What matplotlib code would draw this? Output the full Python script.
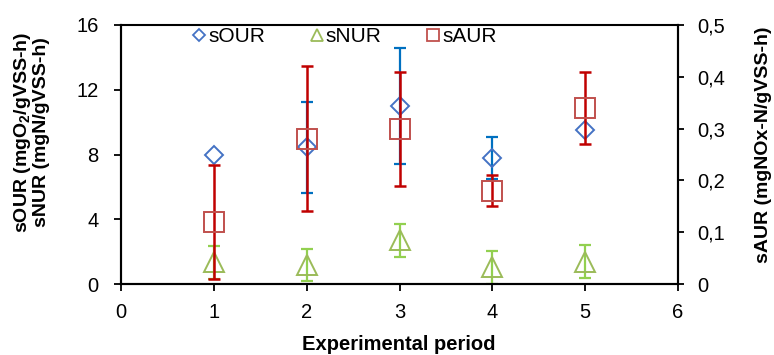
import matplotlib
matplotlib.use("Agg")
import matplotlib.pyplot as plt
import numpy as np
from matplotlib.ticker import FuncFormatter
from matplotlib.lines import Line2D

plt.rcParams['font.family'] = ['Liberation Sans', 'DejaVu Sans']
plt.rcParams['mathtext.fontset'] = 'custom'
plt.rcParams['mathtext.rm'] = 'Liberation Sans:bold'
plt.rcParams['mathtext.bf'] = 'Liberation Sans:bold'

periods = [1, 2, 3, 4, 5]
sour = [8.0, 8.45, 11.0, 7.8, 9.5]
sour_err = [np.nan, 2.8, 3.6, 1.3, np.nan]
snur = [1.33, 1.19, 2.7, 1.03, 1.38]
snur_err = [1.0, 1.0, 1.02, 1.03, 1.0]
saur = [0.12, 0.28, 0.30, 0.18, 0.34]
saur_err = [0.11, 0.14, 0.11, 0.03, 0.07]

W, H = 774, 355
fig = plt.figure(figsize=(W/100, H/100), dpi=100)
L, R, T, B = 121, 678, 25, 284
ax = fig.add_axes([L/W, 1 - B/H, (R-L)/W, (B-T)/H])
ax2 = ax.twinx()

c_our, c_our_e = '#4472C4', '#0070C0'
c_nur, c_nur_e = '#9BBB59', '#92D050'
c_aur, c_aur_e = '#C0504D', '#C00000'

ax.errorbar(periods, sour, yerr=sour_err, fmt='none', ecolor=c_our_e,
            elinewidth=1.6, capsize=4.3, capthick=1.6, zorder=2)
ax.plot(periods, sour, linestyle='none', marker='D', ms=9.5, mfc='none',
        mec=c_our, mew=1.4, zorder=3)
ax.errorbar(periods, snur, yerr=snur_err, fmt='none', ecolor=c_nur_e,
            elinewidth=1.6, capsize=4.3, capthick=1.6, zorder=2)
ax.plot(periods, snur, linestyle='none', marker='^', ms=15, mfc='none',
        mec=c_nur, mew=1.4, zorder=3)

ax2.errorbar(periods, saur, yerr=saur_err, fmt='none', ecolor=c_aur_e,
             elinewidth=1.8, capsize=4.3, capthick=1.8, zorder=2)
ax2.plot(periods, saur, linestyle='none', marker='s', ms=14.5, mfc='none',
         mec=c_aur, mew=1.4, zorder=3)

ax.set_xlim(0, 6)
ax.set_ylim(0, 16)
ax2.set_ylim(0, 0.5)
ax.set_xticks([0, 1, 2, 3, 4, 5, 6])
ax.set_yticks([0, 4, 8, 12, 16])
ax2.set_yticks([0, 0.1, 0.2, 0.3, 0.4, 0.5])
ax2.yaxis.set_major_formatter(FuncFormatter(lambda v, p: ('%g' % round(v, 2)).replace('.', ',')))

for a in (ax, ax2):
    for s in a.spines.values():
        s.set_linewidth(1.5)
        s.set_color('black')
    a.spines['top'].set_visible(False)
ax.tick_params(axis='x', direction='out', length=5, width=1.3, labelsize=14.5, pad=9)
ax.tick_params(axis='y', direction='out', length=5, width=1.3, labelsize=14.5, pad=11)
ax2.tick_params(axis='y', direction='out', length=4, width=1.3, labelsize=14.5, pad=10)
ax.plot([0, 1], [1, 1], transform=ax.transAxes, color='black', lw=1.5, clip_on=False)

fig.text(399/W, 1 - 345/H, 'Experimental period', fontsize=14.5, fontweight='bold',
         ha='center', va='center')
fig.text(31/W, 1 - 132/H, 'sOUR (mgO$_2$/gVSS-h)\nsNUR (mgN/gVSS-h)', fontsize=14,
         fontweight='bold', rotation=90, ha='center', va='center',
         multialignment='center', linespacing=1.0)
fig.text(763/W, 1 - 145/H, 'sAUR (mgNOx-N/gVSS-h)', fontsize=14, fontweight='bold',
         rotation=90, ha='center', va='center')

handles = [
    Line2D([], [], linestyle='none', marker='D', ms=6.5, mfc='none', mec=c_our, mew=1.3),
    Line2D([], [], linestyle='none', marker='^', ms=9, mfc='none', mec=c_nur, mew=1.3),
    Line2D([], [], linestyle='none', marker='s', ms=8.5, mfc='none', mec=c_aur, mew=1.3),
]
ax.legend(handles, ['sOUR', 'sNUR', 'sAUR'], loc='center left',
          bbox_to_anchor=((193-L)/(R-L), (B-37)/(B-T)), ncol=3, frameon=False,
          fontsize=15, handlelength=0.6, handletextpad=0.15, columnspacing=2.15,
          borderpad=0, borderaxespad=0)

fig.savefig('out.png', dpi=100)
